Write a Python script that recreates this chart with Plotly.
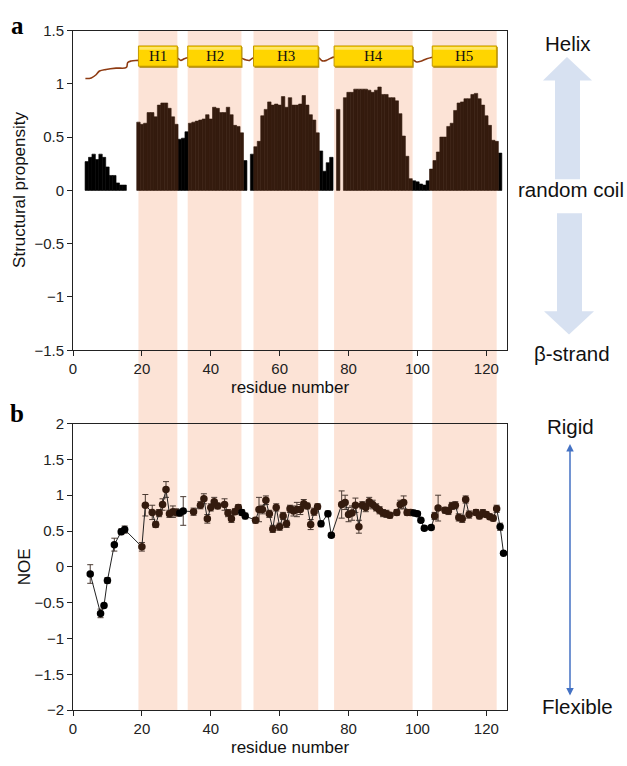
import plotly.graph_objects as go

W, H = 627, 766
L, R = 73, 120
PW = W - L - R

def px_x(px):
    return (px - L) / PW

def px_y(py):
    return 1 - py / H

# ---------------- data ----------------
helix_names = ["H1", "H2", "H3", "H4", "H5"]
helix_start = [19.0, 33.3, 52.4, 75.8, 104.3]
helix_end = [30.3, 48.9, 71.2, 98.6, 123.0]

# structural propensity (SSP) - non-helical residues (black)
coil_res = [4, 5, 6, 7, 8, 9, 10, 11, 12, 13, 14, 15,
            31, 32, 33, 50, 52, 72, 73, 74, 75,
            99, 100, 101, 102, 103, 124]
coil_prop = [0.27, 0.31, 0.34, 0.29, 0.34, 0.31, 0.22, 0.14, 0.14, 0.07, 0.05, 0.05,
             0.48, 0.49, 0.55, 0.28, 0.34, 0.37, 0.18, 0.26, 0.31,
             0.09, 0.08, 0.06, 0.05, 0.09, 0.35]

# helical residues (dark brown)
helix_res = (list(range(19, 31)) + list(range(34, 50)) + list(range(53, 72))
             + [77] + list(range(79, 99)) + list(range(104, 124)))
helix_prop = [0.64, 0.62, 0.63, 0.73, 0.73, 0.69, 0.80, 0.82, 0.82, 0.77, 0.69, 0.62,
              0.63, 0.64, 0.65, 0.66, 0.67, 0.71, 0.67, 0.78, 0.77, 0.73, 0.73, 0.78,
              0.71, 0.61, 0.60, 0.54,
              0.41, 0.46, 0.70, 0.76, 0.83, 0.80, 0.81, 0.80, 0.88, 0.78, 0.87, 0.80,
              0.80, 0.81, 0.89, 0.80, 0.71, 0.66, 0.54,
              0.76,
              0.87, 0.92, 0.92, 0.95, 0.95, 0.95, 0.95, 0.94, 0.92, 0.94, 0.97, 0.90,
              0.90, 0.87, 0.87, 0.84, 0.72, 0.51, 0.32, 0.11,
              0.20, 0.28, 0.36, 0.50, 0.50, 0.60, 0.63, 0.75, 0.82, 0.83, 0.86, 0.86,
              0.90, 0.91, 0.86, 0.80, 0.70, 0.61, 0.47, 0.46]

# secondary-structure cartoon: coil trace
coil_x = [3.6, 5.3, 6.7, 7.7, 9.6, 12.5, 15.5, 15.9, 16.9, 19.0,
          30.3, 31.3, 32.3, 33.3,
          48.9, 50.1, 51.3, 52.4,
          71.2, 72.4, 73.6, 74.8, 75.8,
          98.6, 99.8, 101.2, 102.7, 104.3]
coil_y = [1.05, 1.055, 1.085, 1.12, 1.135, 1.147, 1.153, 1.20, 1.214, 1.22,
          1.24, 1.22, 1.235, 1.245,
          1.24, 1.225, 1.22, 1.245,
          1.245, 1.215, 1.22, 1.24, 1.25,
          1.225, 1.205, 1.215, 1.235, 1.25]

# heteronuclear NOE
noe_res = [5, 8, 9, 10, 12, 14, 15, 20, 21, 23, 24, 25, 26, 27, 28, 29, 30, 31, 32,
           35, 37, 38, 39, 40, 41, 42, 44, 45, 46, 47, 48, 49, 50,
           53, 54, 55, 56, 57, 58, 59, 60, 61, 62, 63, 64, 65, 66, 67, 68, 69, 70, 71,
           72, 74, 75,
           78, 79, 80, 81, 82, 83, 84, 85, 86, 87, 88, 89, 90, 91, 92, 94, 95, 96, 97, 98,
           99, 100, 101, 102,
           104, 105, 106, 108, 109, 110, 111, 112, 113, 114, 115, 117, 118, 119, 120,
           121, 122, 123, 124, 125]
noe_val = [-0.10, -0.65, -0.54, -0.19, 0.31, 0.49, 0.52, 0.28, 0.86, 0.76, 0.59, 0.75,
           0.87, 1.08, 0.74, 0.77, 0.76, 0.75, 0.78,
           0.77, 0.86, 0.95, 0.67, 0.83, 0.91, 0.85, 0.87, 0.75, 0.67, 0.77, 0.83, 0.76, 0.71,
           0.65, 0.80, 0.80, 0.93, 0.74, 0.53, 0.83, 0.56, 0.71, 0.60, 0.81, 0.78, 0.80,
           0.80, 0.88, 0.85, 0.59, 0.77, 0.84,
           0.60, 0.74, 0.44,
           0.87, 0.90, 0.73, 0.75, 0.86, 0.56, 0.86, 0.83, 0.91, 0.87, 0.83, 0.79, 0.75,
           0.74, 0.72, 0.76, 0.87, 0.90, 0.76, 0.76,
           0.75, 0.74, 0.65, 0.54,
           0.55, 0.71, 0.82, 0.79, 0.78, 0.85, 0.86, 0.69, 0.67, 0.94, 0.73, 0.76, 0.71,
           0.75, 0.73, 0.70, 0.68, 0.81, 0.56, 0.19]
noe_err = [0.13, 0.06, 0.03, 0.04, 0.09, 0.04, 0.05, 0.06, 0.15, 0.10, 0.04, 0.05,
           0.08, 0.11, 0.05, 0.08, 0.05, 0.04, 0.20,
           0.05, 0.05, 0.07, 0.06, 0.05, 0.06, 0.04, 0.08, 0.05, 0.05, 0.04, 0.04, 0.04, 0.04,
           0.04, 0.17, 0.06, 0.06, 0.05, 0.05, 0.05, 0.05, 0.05, 0.05, 0.05, 0.07, 0.10,
           0.07, 0.06, 0.04, 0.07, 0.05, 0.04,
           0.04, 0.04, 0.03,
           0.19, 0.10, 0.10, 0.10, 0.10, 0.09, 0.05, 0.06, 0.06, 0.06, 0.05, 0.05, 0.05,
           0.05, 0.04, 0.04, 0.06, 0.09, 0.04, 0.04,
           0.03, 0.03, 0.03, 0.03,
           0.03, 0.05, 0.18, 0.04, 0.05, 0.05, 0.05, 0.05, 0.05, 0.05, 0.05, 0.04, 0.04,
           0.05, 0.04, 0.04, 0.04, 0.05, 0.05, 0.02]

x_ticks = [0, 20, 40, 60, 80, 100, 120]

# ---------------- styling ----------------
BROWN = "#341b0e"
SHADE = "#fce3d6"
AX = "#222222"
FONT = "Liberation Sans, Arial, sans-serif"

ya_dom = [px_y(349), px_y(22)]
yb_dom = [px_y(717), px_y(424)]


def in_helix(r):
    return any(s <= r <= e for s, e in zip(helix_start, helix_end))


noe_colors = [BROWN if in_helix(r) else "#000000" for r in noe_res]

fig = go.Figure()

fig.add_trace(go.Bar(x=coil_res, y=coil_prop, width=1,
                     marker=dict(color="#000000", line=dict(width=0.6, color="#000000")),
                     xaxis="x", yaxis="y", showlegend=False, hoverinfo="skip"))
fig.add_trace(go.Bar(x=helix_res, y=helix_prop, width=1,
                     marker=dict(color=BROWN, line=dict(width=0.6, color=BROWN)),
                     xaxis="x", yaxis="y", showlegend=False, hoverinfo="skip"))
fig.add_trace(go.Scatter(x=coil_x, y=coil_y, mode="lines", line=dict(color="#8e3b12", width=1.6, shape="spline"),
                         xaxis="x", yaxis="y", showlegend=False, hoverinfo="skip"))
fig.add_trace(go.Scatter(x=noe_res, y=noe_val, mode="lines+markers",
                         line=dict(color="#222222", width=1),
                         marker=dict(color=noe_colors, size=7.5),
                         error_y=dict(type="data", array=noe_err, color="#4a3a32", thickness=1, width=3),
                         xaxis="x2", yaxis="y2", showlegend=False))

axis_common = dict(showline=True, linecolor=AX, linewidth=1, mirror=True, ticks="outside",
                   ticklen=5, tickcolor=AX, showgrid=False, zeroline=False,
                   tickfont=dict(family=FONT, size=15, color=AX))

fig.update_layout(
    width=W, height=H,
    margin=dict(l=L, r=R, t=0, b=0),
    paper_bgcolor="white", plot_bgcolor="rgba(0,0,0,0)",
    barmode="overlay",
    xaxis=dict(range=[0, 126], tickvals=x_ticks, anchor="y", domain=[0, 1], **axis_common),
    yaxis=dict(range=[-1.5, 1.5], dtick=0.5, anchor="x", domain=ya_dom, **axis_common),
    xaxis2=dict(range=[0, 126], tickvals=x_ticks, anchor="y2", domain=[0, 1], **axis_common),
    yaxis2=dict(range=[-2, 2], dtick=0.5, anchor="x2", domain=yb_dom, **axis_common),
)

shapes = []
# helix shading across both panels
for s, e in zip(helix_start, helix_end):
    shapes.append(dict(type="rect", xref="x", yref="paper", x0=s, x1=e, y0=yb_dom[0], y1=ya_dom[1],
                       fillcolor=SHADE, line=dict(width=0), layer="below"))
# helix boxes
for s, e in zip(helix_start, helix_end):
    shapes.append(dict(type="rect", xref="x", yref="y", x0=s + 0.3, x1=e + 0.3, y0=1.15, y1=1.345,
                       fillcolor="#a88400", line=dict(width=0), layer="above"))
    shapes.append(dict(type="rect", xref="x", yref="y", x0=s, x1=e, y0=1.165, y1=1.355,
                       fillcolor="#ffd500", line=dict(color="#c49a00", width=1), layer="above"))
    shapes.append(dict(type="rect", xref="x", yref="y", x0=s + 0.3, x1=e - 0.3, y0=1.32, y1=1.345,
                       fillcolor="#ffe766", line=dict(width=0), layer="above"))


def arrow_path(pts):
    d = "M " + " L ".join(f"{px_x(x):.4f},{px_y(y):.4f}" for x, y in pts) + " Z"
    return d


ARW = "#d7e1f1"
up = [(567, 49), (592, 73), (580, 73), (580, 174), (555, 174), (555, 73), (543, 73)]
down = [(569, 333), (594, 309), (582, 309), (582, 209), (557, 209), (557, 309), (544, 309)]
for pts in (up, down):
    shapes.append(dict(type="path", xref="paper", yref="paper", path=arrow_path(pts),
                       fillcolor=ARW, line=dict(width=0), layer="above"))

fig.update_layout(shapes=shapes)

ann = []
for name, s, e in zip(helix_names, helix_start, helix_end):
    ann.append(dict(x=(s + e) / 2, y=1.26, xref="x", yref="y", text=name, showarrow=False,
                    font=dict(family="Liberation Serif, Times New Roman, serif", size=15, color="#111")))

TXT = dict(family=FONT, size=20.5, color="#111")
for txt, x, y in [("Helix", 568, 35), ("random coil", 571, 185), ("β-strand", 572, 352),
                  ("Rigid", 570, 427), ("Flexible", 577, 713)]:
    ann.append(dict(x=px_x(x), y=px_y(y), xref="paper", yref="paper", text=txt, showarrow=False,
                    font=TXT, xanchor="center", yanchor="middle"))

ann.append(dict(x=px_x(570), y=px_y(445), xref="paper", yref="paper", text="", showarrow=True,
                ax=0, ay=253, axref="pixel", ayref="pixel", arrowside="end+start", arrowhead=2,
                arrowsize=1, arrowwidth=1.5, arrowcolor="#4472c4", standoff=0, startstandoff=0))

for lab, y in [("a", 17), ("b", 414)]:
    ann.append(dict(x=px_x(17), y=px_y(y), xref="paper", yref="paper", text="<b>" + lab + "</b>",
                    showarrow=False, xanchor="center", yanchor="middle",
                    font=dict(family="Liberation Serif, Times New Roman, serif", size=25, color="#000")))

TF = dict(family=FONT, size=17, color="#111")
ann.append(dict(x=px_x(20), y=px_y(185), xref="paper", yref="paper", text="Structural propensity",
                textangle=-90, showarrow=False, font=TF, xanchor="center", yanchor="middle"))
ann.append(dict(x=px_x(24), y=px_y(571), xref="paper", yref="paper", text="NOE",
                textangle=-90, showarrow=False, font=TF, xanchor="center", yanchor="middle"))
ann.append(dict(x=px_x(290), y=px_y(387), xref="paper", yref="paper", text="residue number",
                showarrow=False, font=TF, xanchor="center", yanchor="middle"))
ann.append(dict(x=px_x(290), y=px_y(755), xref="paper", yref="paper", text="residue number",
                showarrow=False, font=TF, xanchor="center", yanchor="middle"))

fig.update_layout(annotations=ann)

fig.write_html("out.html", config={"displayModeBar": False},
               post_script="document.body.style.margin='0px';")
